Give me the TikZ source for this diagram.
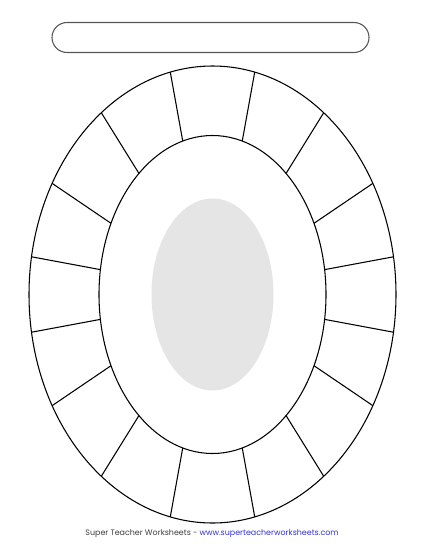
\documentclass[tikz,border=0pt]{standalone}
\usepackage{fontspec}
\setmainfont{Poppins}
\usetikzlibrary{calc}
\definecolor{bargray}{RGB}{85,85,85}
\definecolor{shadegray}{RGB}{229,229,229}
\definecolor{creditgray}{RGB}{60,60,60}
\definecolor{linkblue}{RGB}{51,51,204}

\begin{document}
\begin{tikzpicture}[
    x=0.75pt, y=-0.75pt,
    rim/.style={draw=black, line width=0.8pt},
    spoke/.style={draw=black, line width=0.8pt},
    namebar/.style={draw=bargray, line width=0.8pt, rounded corners=11.25pt},
    credit/.style={font=\fontsize{5.95}{8}\selectfont, text=creditgray, inner sep=0pt}
]
\useasboundingbox (0,0) rectangle (425,550);
% title bar
\draw[namebar] (52,22.5) rectangle (369,52.5);
% rings
\coordinate (mid) at (212.5,294.5);
\draw[rim, fill=white] (mid) ellipse [x radius=183.5, y radius=228.5];
\draw[rim] (mid) ellipse [x radius=113.5, y radius=159];
\fill[shadegray] (mid) ellipse [x radius=61, y radius=96];
% spokes, one quarter mirrored
\foreach \a/\b in {103.3/105.2, 127.3/130.4, 150.9/153.4, 170.5/171.0}{
    \foreach \t/\u in {\a/\b, 180-\a/180-\b, -\a/-\b, 180+\a/180+\b}
        \draw[spoke] ($(mid)+(\t:183.5 and 228.5)$) -- ($(mid)+(\u:113.5 and 159)$);
}
% footer
\node[credit] (footer) at (212,534) {Super Teacher Worksheets - \textcolor{linkblue}{www.superteacherworksheets.com}};
\end{tikzpicture}
\end{document}
